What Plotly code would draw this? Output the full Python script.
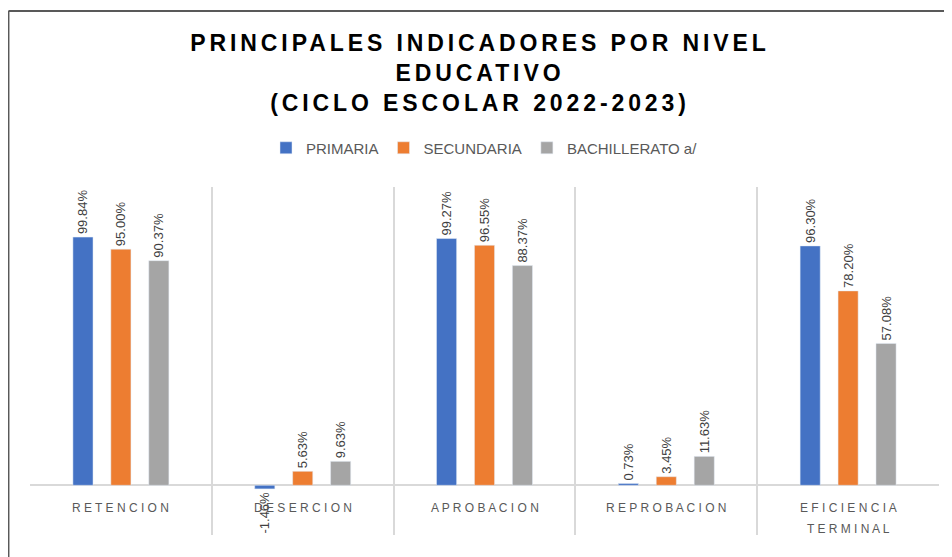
import plotly.graph_objects as go

# Colours (Excel default palette)
BLUE = "#4472C4"
ORANGE = "#ED7D31"
GREY = "#A5A5A5"
GRID = "#D9D9D9"
TEXT = "#595959"

CATEGORIES = ["RETENCION", "DESERCION", "APROBACION", "REPROBACION", "EFICIENCIA TERMINAL"]
PRIMARIA = [99.84, -1.46, 99.27, 0.73, 96.30]
SECUNDARIA = [95.00, 5.63, 96.55, 3.45, 78.20]
BACHILLERATO = [90.37, 9.63, 88.37, 11.63, 57.08]

SERIES = [
    ("PRIMARIA", PRIMARIA, BLUE),
    ("SECUNDARIA", SECUNDARIA, ORANGE),
    ("BACHILLERATO a/", BACHILLERATO, GREY),
]

TITLE_LINES = ["PRINCIPALES INDICADORES POR NIVEL", "EDUCATIVO", "(CICLO ESCOLAR 2022-2023)"]


def tracked(s, px):
    """Letter spacing through an inline span style."""
    return f'<span style="letter-spacing:{px}px">{s}</span>'


fig = go.Figure()
for name, vals, colour in SERIES:
    fig.add_trace(go.Bar(
        x=CATEGORIES,
        y=vals,
        name=name,
        marker_color=colour,
        text=[f"{v:.2f}%" for v in vals],
        textposition="outside",
        textangle=-90,
        constraintext="none",
        cliponaxis=False,
        textfont=dict(family="Arial", size=13, color="#404040"),
    ))

# category labels sit just under the zero line, like Excel does
# (two-word label wraps, with Excel's looser line spacing)
for cat in CATEGORIES:
    words = cat.split(" ") if cat.startswith("EFICIENCIA") else [cat]
    for i, w in enumerate(words):
        fig.add_annotation(
            x=cat, y=-5.5 - i * 8.6, xref="x", yref="y",
            text=" ".join(w), showarrow=False, yanchor="top",
            font=dict(family="Arial", size=12, color=TEXT),
        )

# chart frame (top and left edges visible in the original)
fig.add_shape(type="line", xref="paper", yref="paper", x0=-0.0237, x1=1.02, y0=1.506, y1=1.506,
              line=dict(color="#595959", width=2))
fig.add_shape(type="line", xref="paper", yref="paper", x0=-0.0237, x1=-0.0237, y0=-0.07, y1=1.506,
              line=dict(color="#595959", width=2))

fig.update_layout(
    title=dict(
        text="<br>".join(tracked(t, 3.9) for t in TITLE_LINES),
        x=0.5, xanchor="center", y=0.921, yanchor="top",
        font=dict(family="Arial", size=23, color="#000000", weight="bold"),
    ),
    barmode="group",
    bargap=0.374,
    bargroupgap=0.47,
    plot_bgcolor="white",
    paper_bgcolor="white",
    width=944,
    height=549,
    margin=dict(l=22, r=13, t=179, b=22),
    font=dict(family="Arial", size=12, color=TEXT),
    legend=dict(
        orientation="h", x=0.5, xanchor="center", y=1.112, yanchor="middle",
        font=dict(family="Arial", size=15, color=TEXT),
        itemwidth=30,
    ),
    showlegend=True,
)
fig.update_xaxes(
    type="category", tickson="boundaries", showgrid=True, gridcolor=GRID, gridwidth=1.5,
    showticklabels=False, ticks="", showline=False, zeroline=False,
)
fig.update_yaxes(
    range=[-20, 120], showgrid=False, showticklabels=False, ticks="",
    zeroline=True, zerolinecolor=GRID, zerolinewidth=1.5, showline=False,
)

fig.write_html("out.html")
